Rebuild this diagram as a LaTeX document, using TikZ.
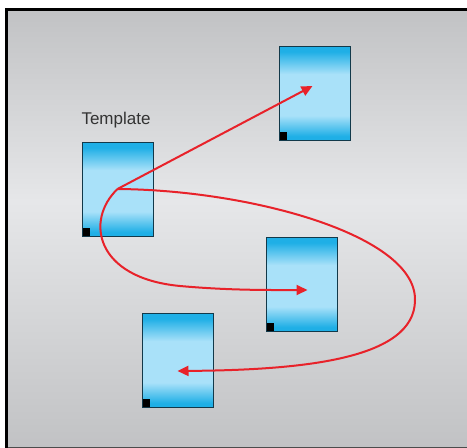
\documentclass[tikz,border=0pt]{standalone}
\usepackage{fontspec}
\setmainfont{Liberation Sans}
\usetikzlibrary{arrows.meta}

\definecolor{pagegray}{HTML}{C1C2C4}
\definecolor{pagelight}{HTML}{E6E7E9}
\definecolor{carddark}{HTML}{1FAFE6}
\definecolor{cardlight}{HTML}{A9E1F9}
\definecolor{cardedge}{HTML}{12394A}
\definecolor{linkred}{HTML}{E8222A}

\pgfdeclareverticalshading{pageshade}{100bp}{color(0bp)=(pagegray); color(25bp)=(pagegray);
  color(53bp)=(pagelight); color(75bp)=(pagegray); color(100bp)=(pagegray)}
\pgfdeclareverticalshading{cardshade}{100bp}{color(0bp)=(carddark); color(27bp)=(carddark);
  color(38bp)=(cardlight); color(60bp)=(cardlight); color(72bp)=(carddark); color(100bp)=(carddark)}

\tikzset{
  card/.style={draw=cardedge, line width=1pt, shading=cardshade,
    minimum width=71pt, minimum height=94pt, inner sep=0pt,
    path picture={\fill[black] (path picture bounding box.south west) rectangle ++(8pt,8pt);}},
  link/.style={draw=linkred, line width=2pt, -{Triangle[length=11pt,width=10pt]}}
}

\begin{document}
\begin{tikzpicture}[x=1pt,y=-1pt]
  \useasboundingbox (0,0) rectangle (467,448);

  % page
  \shade[shading=pageshade] (5,8) rectangle (467,448);
  \draw[line width=1pt, black!70] (5,447.5) -- (467,447.5);
  \draw[line width=3pt] (6.5,448) |- (470,9.5);

  % the pages
  \node[text=black!80, font=\fontsize{17}{20}\selectfont, anchor=base] (tpllabel) at (116,124) {Template};
  \node[card] (tpl)   at (117.5,189) {};
  \node[card] (copya) at (314.5,93)  {};
  \node[card] (copyb) at (301.5,284) {};
  \node[card] (copyc) at (177.5,360) {};

  % links out of the template
  \draw[link] (tpl.center) -- ([shift={(-2,-7)}]copya.center);
  \draw[link] (tpl.center) .. controls (85,220) and (95,278) .. (180,286)
                           .. controls (230,290.5) and (270,290) .. ([shift={(6,6)}]copyb.center);
  \draw[link] (tpl.center) .. controls (250,190) and (416,235) .. (415,300)
                           .. controls (415,360) and (300,370) .. ([shift={(0,11)}]copyc.center);
\end{tikzpicture}
\end{document}
